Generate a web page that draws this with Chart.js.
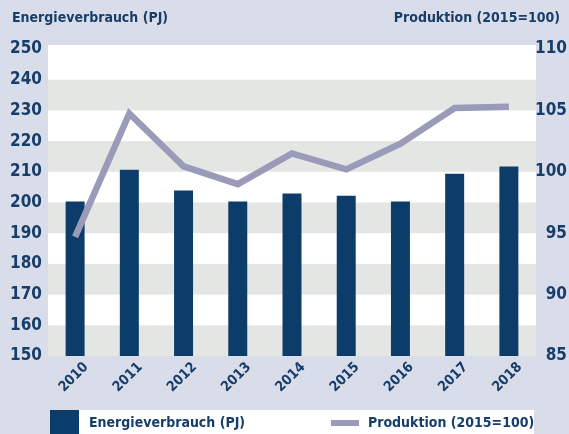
<!DOCTYPE html>
<html>
<head>
<meta charset="utf-8">
<script src="https://cdn.jsdelivr.net/npm/chart.js@4"></script>
<style>
  html,body{margin:0;padding:0;background:#d9dde9;}
  #wrap{position:relative;width:569px;height:434px;overflow:hidden;font-family:"DejaVu Sans Condensed","DejaVu Sans",sans-serif;font-weight:bold;color:#173d6a;}
  #c{position:absolute;left:0;top:0;}
  .ttl{position:absolute;top:9px;font-size:14px;white-space:nowrap;}
  #legend{position:absolute;left:50px;top:410px;width:484px;height:24px;background:#fff;font-size:14px;}
  .sw-bar{position:absolute;left:0;top:0;width:29px;height:24px;background:#0c3c6a;}
  .sw-line{position:absolute;left:281px;top:10px;width:28px;height:6px;background:#999bb8;}
  .lt{position:absolute;top:4px;white-space:nowrap;}
</style>
</head>
<body>
<div id="wrap">
  <canvas id="c" width="569" height="434"></canvas>
  <div class="ttl" style="left:12px">Energieverbrauch (PJ)</div>
  <div class="ttl" style="right:9px">Produktion (2015=100)</div>
  <div id="legend">
    <span class="sw-bar"></span><span class="lt" style="left:39px">Energieverbrauch (PJ)</span>
    <span class="sw-line"></span><span class="lt" style="left:318px">Produktion (2015=100)</span>
  </div>
</div>
<script>
const years=['2010','2011','2012','2013','2014','2015','2016','2017','2018'];
const energie=[200.3,210.7,203.9,200.3,202.9,202.2,200.3,209.4,211.7];
const produktion=[94.7,104.75,100.45,99.0,101.5,100.2,102.3,105.2,105.3];
const leftTicks=[150,160,170,180,190,200,210,220,230,240,250];
const rightTicks=[85,90,95,100,105,110];

const TXT='#173d6a';
const FONT='"DejaVu Sans Condensed","DejaVu Sans",sans-serif';

const bands={
  id:'bands',
  beforeDatasetsDraw(chart){
    const {ctx,chartArea:a,scales:{y}}=chart;
    ctx.save();
    ctx.fillStyle='#ffffff';
    ctx.fillRect(a.left,a.top,a.right-a.left,a.bottom-a.top);
    ctx.fillStyle='#e4e6e3';
    for(let i=0;i<leftTicks.length-1;i+=2){
      const y0=y.getPixelForValue(leftTicks[i]),y1=y.getPixelForValue(leftTicks[i+1]);
      ctx.fillRect(a.left,y1,a.right-a.left,y0-y1);
    }
    ctx.restore();
  }
};

// year labels, rotated 45deg and nudged right of the tick like the original
const yearLabels={
  id:'yearLabels',
  afterDraw(chart){
    const {ctx,chartArea:a,scales:{x}}=chart;
    ctx.save();
    ctx.fillStyle=TXT;
    ctx.font='bold 14px '+FONT;
    ctx.textAlign='right';ctx.textBaseline='middle';
    years.forEach((yr,i)=>{
      ctx.save();
      ctx.translate(x.getPixelForValue(i)+11,a.bottom+9);
      ctx.rotate(-Math.PI/4);
      ctx.fillText(yr,0,0);
      ctx.restore();
    });
    ctx.restore();
  }
};

new Chart(document.getElementById('c'),{
  data:{labels:years,datasets:[
    {type:'line',label:'Produktion (2015=100)',data:produktion,yAxisID:'y1',order:0,
     borderColor:'#999bb8',borderWidth:6.5,pointRadius:0,tension:0,borderJoinStyle:'miter',borderCapStyle:'butt'},
    {type:'bar',label:'Energieverbrauch (PJ)',data:energie,yAxisID:'y',order:1,
     backgroundColor:'#0c3c6a',barPercentage:0.35,categoryPercentage:1}
  ]},
  options:{
    responsive:false,animation:false,
    layout:{padding:{top:45,right:2,bottom:0,left:0}},
    plugins:{legend:{display:false},tooltip:{enabled:false}},
    scales:{
      x:{grid:{display:false},border:{display:false},ticks:{display:false},
         afterFit:s=>{s.height=78;}},
      y:{position:'left',min:150,max:251.3,grid:{display:false,drawTicks:false},border:{display:false},
         afterBuildTicks:s=>{s.ticks=leftTicks.map(v=>({value:v}));},
         ticks:{color:TXT,font:{family:FONT,size:17,weight:'bold'},padding:6},
         afterFit:s=>{s.width=48;}},
      y1:{position:'right',min:85,max:110.33,grid:{display:false,drawTicks:false},border:{display:false},
         afterBuildTicks:s=>{s.ticks=rightTicks.map(v=>({value:v}));},
         ticks:{color:TXT,font:{family:FONT,size:17,weight:'bold'},padding:2,crossAlign:'far'},
         afterFit:s=>{s.width=31;}}
    }
  },
  plugins:[bands,yearLabels]
});
</script>
</body>
</html>
